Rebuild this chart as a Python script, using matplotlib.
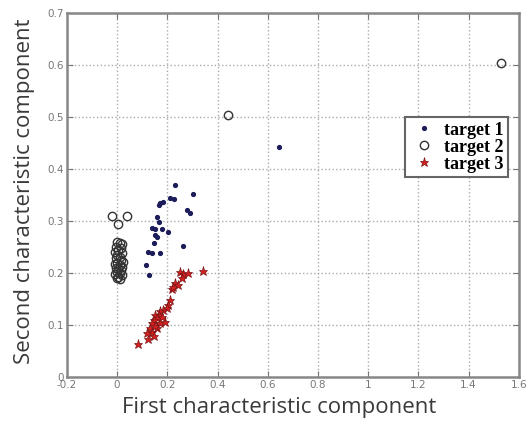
import numpy as np
import matplotlib.pyplot as plt

# target 1 (dark blue dots)
t1_x = [0.231, 0.301, 0.211, 0.227, 0.184, 0.171, 0.165, 0.280, 0.290, 0.158,
        0.165, 0.138, 0.151, 0.178, 0.204, 0.151, 0.158, 0.145, 0.264, 0.125,
        0.138, 0.171, 0.116, 0.129, 0.645]
t1_y = [0.369, 0.353, 0.345, 0.343, 0.337, 0.334, 0.331, 0.322, 0.316, 0.308,
        0.299, 0.286, 0.284, 0.284, 0.279, 0.273, 0.270, 0.258, 0.252, 0.241,
        0.238, 0.239, 0.215, 0.196, 0.443]

# target 2 (open circles)
t2_x = [-0.020, 0.040, 0.005, 0.440, 1.530,
        0.000, 0.010, 0.020, -0.005, 0.015, 0.005, -0.010, 0.020, 0.000, 0.010,
        -0.005, 0.015, 0.025, 0.000, -0.010, 0.010, 0.020, -0.005, 0.005, 0.015,
        0.000, 0.010, -0.010, 0.020, 0.005, 0.000, 0.010]
t2_y = [0.310, 0.310, 0.295, 0.505, 0.605,
        0.260, 0.258, 0.255, 0.250, 0.248, 0.245, 0.240, 0.238, 0.235, 0.230,
        0.228, 0.225, 0.222, 0.220, 0.218, 0.215, 0.212, 0.210, 0.207, 0.205,
        0.202, 0.200, 0.198, 0.196, 0.193, 0.190, 0.188]

# target 3 (red stars)
t3_x = [0.085, 0.125, 0.344, 0.251, 0.264, 0.284, 0.257, 0.231, 0.244, 0.218,
        0.224, 0.211, 0.204, 0.198, 0.184, 0.171, 0.165, 0.151, 0.158, 0.145,
        0.138, 0.171, 0.191, 0.131, 0.158, 0.138, 0.118, 0.145, 0.178, 0.150]
t3_y = [0.063, 0.074, 0.204, 0.202, 0.199, 0.200, 0.190, 0.180, 0.177, 0.170,
        0.174, 0.148, 0.138, 0.132, 0.129, 0.126, 0.119, 0.119, 0.113, 0.110,
        0.103, 0.103, 0.106, 0.094, 0.094, 0.087, 0.084, 0.078, 0.115, 0.098]

xticks = [-0.2, 0, 0.2, 0.4, 0.6, 0.8, 1, 1.2, 1.4, 1.6]
xlabels = ['-0.2', '0', '0.2', '0.4', '0.6', '0.8', '1', '1.2', '1.4', '1.6']
yticks = [0, 0.1, 0.2, 0.3, 0.4, 0.5, 0.6, 0.7]
ylabels = ['0', '0.1', '0.2', '0.3', '0.4', '0.5', '0.6', '0.7']

fig = plt.figure(figsize=(5.31, 4.25), dpi=100)
ax = fig.add_axes([0.126, 0.113, 0.851, 0.856])

ax.plot(t1_x, t1_y, '.', color='#1c1c5a', markersize=5.5, label='target 1')
ax.plot(t2_x, t2_y, 'o', mfc='none', mec='#333333', markersize=6, mew=1.0, label='target 2')
ax.plot(t3_x, t3_y, '*', color='#d42020', mec='#7a1515', mew=0.5, markersize=6.5, label='target 3')

ax.set_xlim(-0.2, 1.6)
ax.set_ylim(0, 0.7)
ax.set_xticks(xticks)
ax.set_xticklabels(xlabels)
ax.set_yticks(yticks)
ax.set_yticklabels(ylabels)
ax.tick_params(direction='in', top=True, right=True, length=4, labelsize=7.5,
               labelcolor='#777777', color='#777777', pad=2)
ax.grid(True, linestyle=':', color='#aaaaaa', linewidth=1)
for s in ax.spines.values():
    s.set_color('#888888')
    s.set_linewidth(1.8)

ax.set_xlabel('First characteristic component', fontsize=16, family='Open Sans', color='#3a3a3a')
ax.set_ylabel('Second characteristic component', fontsize=16, family='Open Sans', color='#3a3a3a')
ax.xaxis.set_label_coords(0.47, -0.055)
ax.yaxis.set_label_coords(-0.07, 0.51)

leg = ax.legend(loc='upper right', bbox_to_anchor=(0.976, 0.714), borderaxespad=0,
                fancybox=False,
                prop={'family': 'Liberation Serif', 'weight': 'bold', 'size': 13},
                handlelength=1.6, handletextpad=0.3, borderpad=0.25, labelspacing=0.0,
                framealpha=1)
leg.get_frame().set_edgecolor('#666666')
leg.get_frame().set_linewidth(1.5)

fig.savefig('out.png', dpi=100)
